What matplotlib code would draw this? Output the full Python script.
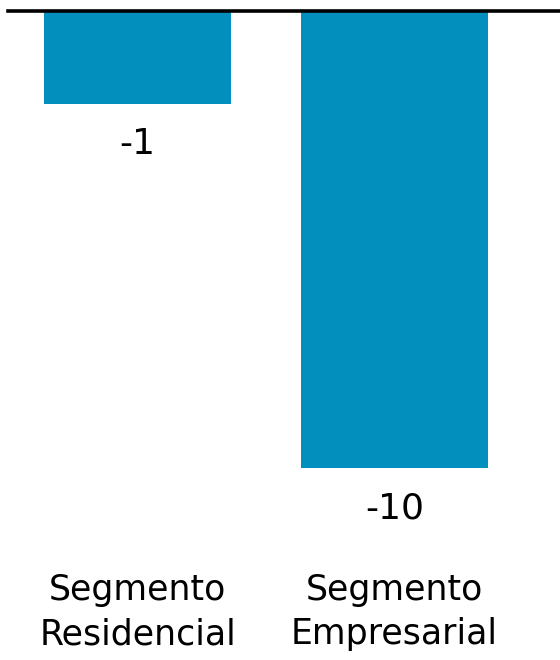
import matplotlib.pyplot as plt

# data
categories = ["Segmento\nResidencial", "Segmento\nEmpresarial"]
values = [-2.04, -10.0]
value_labels = ["-1", "-10"]

bar_color = "#038FBE"

plt.rcParams["font.family"] = ["DejaVu Sans"]

W, H = 560, 660
fig = plt.figure(figsize=(W / 100, H / 100), dpi=100)
# axes from x=8..560 px, y=10.5..468 px
ax = fig.add_axes([8 / W, 1 - 468 / H, 552 / W, (468 - 10.5) / H])

x = list(range(len(categories)))
ax.bar(x, values, width=0.728, color=bar_color, zorder=1)
ax.set_xlim(-0.504, 1.644)
ax.set_ylim(-10, 0)
ax.axhline(0, color="black", lw=2.6, zorder=3, clip_on=False)

# value labels under the bars
for xi, v, lab in zip(x, values, value_labels):
    ax.annotate(lab, (xi, v), xytext=(0, -17), textcoords="offset points",
                ha="center", va="top", fontsize=26)

ax.axis("off")

# category labels at the bottom
for xi, cat in zip(x, categories):
    px = ax.transData.transform((xi, 0))[0]
    fig.text(px / W, 1 - 612 / H, cat, ha="center", va="center",
             fontsize=25, linespacing=1.38)

fig.savefig("out.png", dpi=100)
